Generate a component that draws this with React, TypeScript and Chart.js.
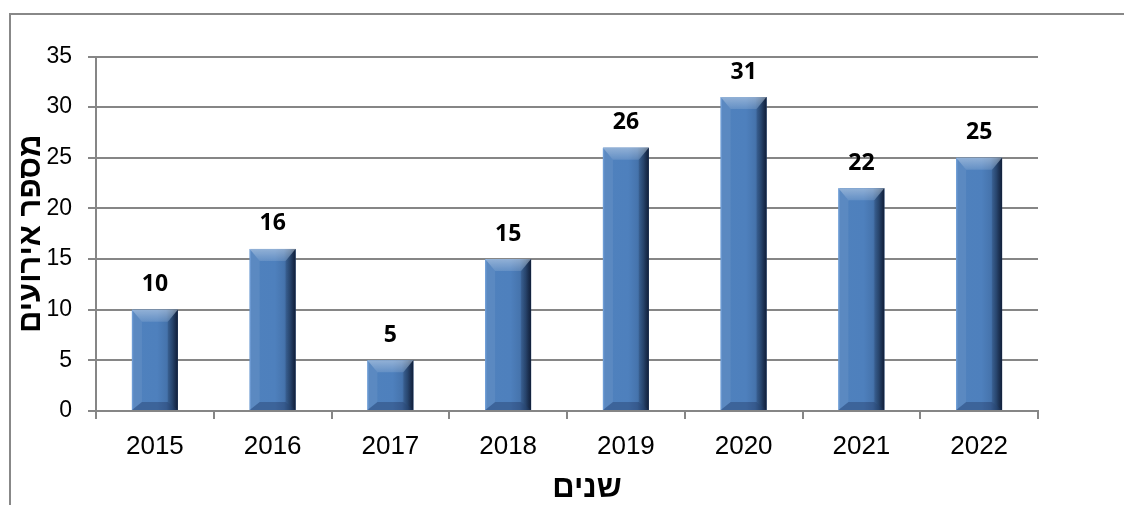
import React, { useEffect, useRef } from "react";
import { Chart, registerables } from "chart.js";

Chart.register(...registerables);

const years = ["2015", "2016", "2017", "2018", "2019", "2020", "2021", "2022"];
const events = [10, 16, 5, 15, 26, 31, 22, 25];
const yTitle = "מספר אירועים";
const xTitle = "שנים";

const GRID = "#868686";

const bevelPlugin = {
  id: "bevelBars",
  afterDatasetsDraw(chart: any) {
    const ctx = chart.ctx as CanvasRenderingContext2D;
    const meta = chart.getDatasetMeta(0);
    meta.data.forEach((el: any) => {
      const { x, y, base, width } = el.getProps(["x", "y", "base", "width"], true);
      const l = x - width / 2;
      const r = x + width / 2;
      const t = Math.min(y, base);
      const b = Math.max(y, base);
      const h = b - t;
      const bv = Math.min(10, h / 2.5);
      const tb = bv * 1.2;
      const bb = bv * 0.8;
      ctx.save();
      // face
      const g = ctx.createLinearGradient(l, 0, r, 0);
      g.addColorStop(0, "#6d9edb");
      g.addColorStop(0.04, "#4f81bd");
      g.addColorStop(0.55, "#4e80bd");
      g.addColorStop(0.75, "#4674ad");
      g.addColorStop(0.88, "#335987");
      g.addColorStop(1, "#1a2f4e");
      ctx.fillStyle = g;
      ctx.fillRect(l, t, width, h);
      // top bevel
      ctx.beginPath();
      ctx.moveTo(l, t);
      ctx.lineTo(r, t);
      ctx.lineTo(r - bv, t + tb);
      ctx.lineTo(l + bv, t + tb);
      ctx.closePath();
      const gt = ctx.createLinearGradient(0, t, 0, t + tb);
      gt.addColorStop(0, "rgba(255,255,255,0.38)");
      gt.addColorStop(1, "rgba(255,255,255,0.12)");
      ctx.fillStyle = gt;
      ctx.fill();
      // left bevel
      ctx.beginPath();
      ctx.moveTo(l, t);
      ctx.lineTo(l + bv, t + tb);
      ctx.lineTo(l + bv, b - bb);
      ctx.lineTo(l, b);
      ctx.closePath();
      ctx.fillStyle = "rgba(255,255,255,0.07)";
      ctx.fill();
      // right bevel
      ctx.beginPath();
      ctx.moveTo(r, t);
      ctx.lineTo(r - bv, t + tb);
      ctx.lineTo(r - bv, b - bb);
      ctx.lineTo(r, b);
      ctx.closePath();
      const gr = ctx.createLinearGradient(r - bv, 0, r, 0);
      gr.addColorStop(0, "rgba(0,0,20,0.12)");
      gr.addColorStop(1, "rgba(0,0,20,0.35)");
      ctx.fillStyle = gr;
      ctx.fill();
      // bottom bevel
      ctx.beginPath();
      ctx.moveTo(l, b);
      ctx.lineTo(l + bv, b - bb);
      ctx.lineTo(r - bv, b - bb);
      ctx.lineTo(r, b);
      ctx.closePath();
      ctx.fillStyle = "rgba(0,0,30,0.22)";
      ctx.fill();
      ctx.restore();
    });
  },
};

const labelPlugin = {
  id: "valueLabels",
  afterDatasetsDraw(chart: any) {
    const ctx = chart.ctx as CanvasRenderingContext2D;
    const meta = chart.getDatasetMeta(0);
    const data = chart.data.datasets[0].data as number[];
    ctx.save();
    ctx.font = "bold 23px 'Open Sans'";
    ctx.fillStyle = "#000";
    ctx.textAlign = "center";
    ctx.textBaseline = "middle";
    meta.data.forEach((el: any, i: number) => {
      const { x, y } = el.getProps(["x", "y"], true);
      ctx.fillText(String(data[i]), x, y - 25);
    });
    ctx.restore();
  },
};

const xTitlePlugin = {
  id: "xTitle",
  afterDraw(chart: any) {
    const ctx = chart.ctx as CanvasRenderingContext2D;
    ctx.save();
    ctx.font = "bold 31px 'Liberation Sans'";
    ctx.fillStyle = "#000";
    ctx.textAlign = "center";
    ctx.textBaseline = "middle";
    ctx.fillText(xTitle, 587, 488);
    ctx.restore();
  },
};

export default function App() {
  const ref = useRef<HTMLCanvasElement | null>(null);
  useEffect(() => {
    if (!ref.current) return;
    const chart = new Chart(ref.current, {
      type: "bar",
      data: {
        labels: years,
        datasets: [
          {
            data: events,
            backgroundColor: "#4f81bd",
            borderWidth: 0,
            categoryPercentage: 1,
            barPercentage: 0.39,
          },
        ],
      },
      options: {
        responsive: false,
        animation: false,
        devicePixelRatio: 1,
        layout: { padding: { left: 0, right: 86, top: 56.5, bottom: 0 } },
        plugins: {
          legend: { display: false },
          tooltip: { enabled: false },
        },
        scales: {
          x: {
            offset: true,
            grid: {
              offset: true,
              drawOnChartArea: false,
              drawTicks: true,
              tickLength: 8,
              color: GRID,
              lineWidth: 2,
            },
            border: { display: true, color: GRID, width: 2 },
            ticks: {
              color: "#000",
              padding: 12,
              font: { family: "'Liberation Sans'", size: 26 },
            },
            afterFit: (s: any) => {
              s.height = 94;
            },
          },
          y: {
            min: 0,
            max: 35,
            grid: { color: GRID, lineWidth: 2, tickLength: 8 },
            border: { display: true, color: GRID, width: 2 },
            ticks: {
              stepSize: 5,
              color: "#000",
              padding: 16,
              font: { family: "'Liberation Sans'", size: 23 },
            },
            title: {
              display: true,
              text: yTitle,
              color: "#000",
              font: { family: "'Liberation Sans'", size: 31, weight: "bold" },
              padding: { top: 13, bottom: 0 },
            },
            afterFit: (s: any) => {
              s.width = 96;
            },
          },
        },
      },
      plugins: [bevelPlugin, labelPlugin, xTitlePlugin],
    });
    return () => chart.destroy();
  }, []);

  return (
    <div>
      <div
        style={{
          position: "fixed",
          left: 9,
          top: 13,
          right: 0,
          bottom: 0,
          borderLeft: "2px solid #888",
          borderTop: "2px solid #888",
        }}
      />
      <canvas
        ref={ref}
        width={1124}
        height={505}
        style={{ position: "fixed", left: 0, top: 0, width: 1124, height: 505 }}
      />
    </div>
  );
}
